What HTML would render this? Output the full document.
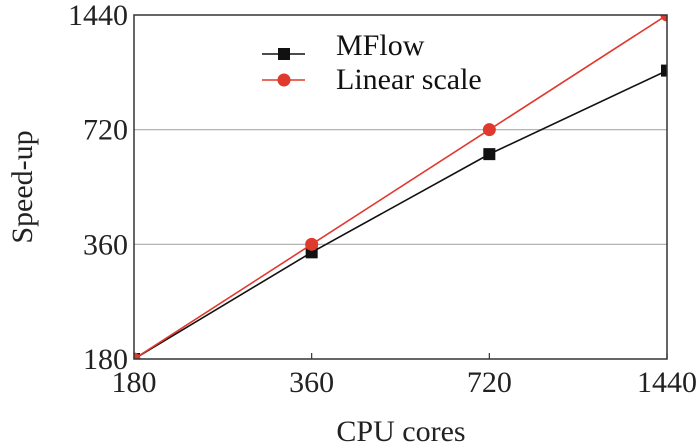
<!DOCTYPE html>
<html><head><meta charset="utf-8"><style>
html,body{margin:0;padding:0;background:#fff;}
svg{display:block;}
text{font-family:"Liberation Serif","DejaVu Serif",serif;}
</style></head><body>
<svg id="chart" width="700" height="446" viewBox="0 0 700 446">
<defs><clipPath id="plotclip"><rect x="134" y="15" width="533" height="344"/></clipPath></defs>
</svg>
<script>
const categories = [180, 360, 720, 1440];
const mflowValues = [180, 343, 621, 1029];
const linearValues = [180, 360, 720, 1440];
const xTickLabels = ["180", "360", "720", "1440"];
const yTickValues = [180, 360, 720, 1440];
const yTickLabels = ["180", "360", "720", "1440"];

const L = 134, R = 667, T = 15, B = 359;
const lmin = Math.log2(180), lmax = Math.log2(1440);
const xs = v => L + (Math.log2(v) - lmin) / (lmax - lmin) * (R - L);
const ys = v => B - (Math.log2(v) - lmin) / (lmax - lmin) * (B - T);
const svg = document.getElementById('chart');
const NS = 'http://www.w3.org/2000/svg';
const FF = '"Liberation Serif", serif';
function mk(tag, attrs, parent) {
  const e = document.createElementNS(NS, tag);
  for (const k in attrs) e.setAttribute(k, attrs[k]);
  if (tag === 'text') e.setAttribute('font-family', FF);
  (parent || svg).appendChild(e);
  return e;
}
yTickValues.forEach((v, i) => {
  if (i > 0 && i < yTickValues.length - 1) {
    const g = mk('line', {x1: L, x2: R, y1: ys(v), y2: ys(v), stroke: '#aaa', 'stroke-width': 1.2});
    
    
  }
  const t = mk('text', {x: L - 6, y: ys(v) + 10, 'text-anchor': 'end', 'font-size': 30, fill: '#222'});
  t.textContent = yTickLabels[i];
  
  
});
categories.forEach((v, i) => {
  const tk = mk('line', {x1: xs(v), x2: xs(v), y1: B, y2: B - 6, stroke: '#333', 'stroke-width': 1.2});
  
  
  const t = mk('text', {x: xs(v), y: B + 33, 'text-anchor': 'middle', 'font-size': 30, fill: '#222'});
  t.textContent = xTickLabels[i];
  
  
});
function series(vals, color, marker, name) {
  const g = mk('g', {'clip-path': 'url(#plotclip)'});
  
  
  const pts = vals.map((v, i) => xs(categories[i]) + ',' + ys(v)).join(' ');
  mk('polyline', {points: pts, fill: 'none', stroke: color, 'stroke-width': 1.6}, g);
  vals.forEach((v, i) => {
    let m;
    if (marker === 'square') m = mk('rect', {x: xs(categories[i]) - 6, y: ys(v) - 6, width: 12, height: 12, fill: color}, g);
    else m = mk('circle', {cx: xs(categories[i]), cy: ys(v), r: 6.5, fill: color}, g);
    
    
  });
}
series(mflowValues, '#111', 'square', 'mflow-series');
series(linearValues, '#e03a2f', 'circle', 'linear-scale-series');
const frame = mk('rect', {x: L, y: T, width: R - L, height: B - T, fill: 'none', stroke: '#333', 'stroke-width': 1.5});


const lg = mk('g', {});


mk('line', {x1: 262, x2: 305, y1: 54, y2: 54, stroke: '#111', 'stroke-width': 1.6}, lg);
mk('rect', {x: 278, y: 48, width: 12, height: 12, fill: '#111'}, lg);
const t1 = mk('text', {x: 336, y: 55, 'font-size': 30, fill: '#111'}, lg); t1.textContent = 'MFlow';


mk('line', {x1: 262, x2: 305, y1: 80, y2: 80, stroke: '#e03a2f', 'stroke-width': 1.6}, lg);
mk('circle', {cx: 284, cy: 80, r: 6.5, fill: '#e03a2f'}, lg);
const t2 = mk('text', {x: 336, y: 89, 'font-size': 30, fill: '#111'}, lg); t2.textContent = 'Linear scale';


const xt = mk('text', {x: 401, y: 441, 'text-anchor': 'middle', 'font-size': 30, fill: '#222'});
xt.textContent = 'CPU cores';


const yt = mk('text', {x: 0, y: 0, 'text-anchor': 'middle', 'font-size': 30, fill: '#222', transform: 'translate(32,187) rotate(-90)'});
yt.textContent = 'Speed-up';


</script>
</body></html>
